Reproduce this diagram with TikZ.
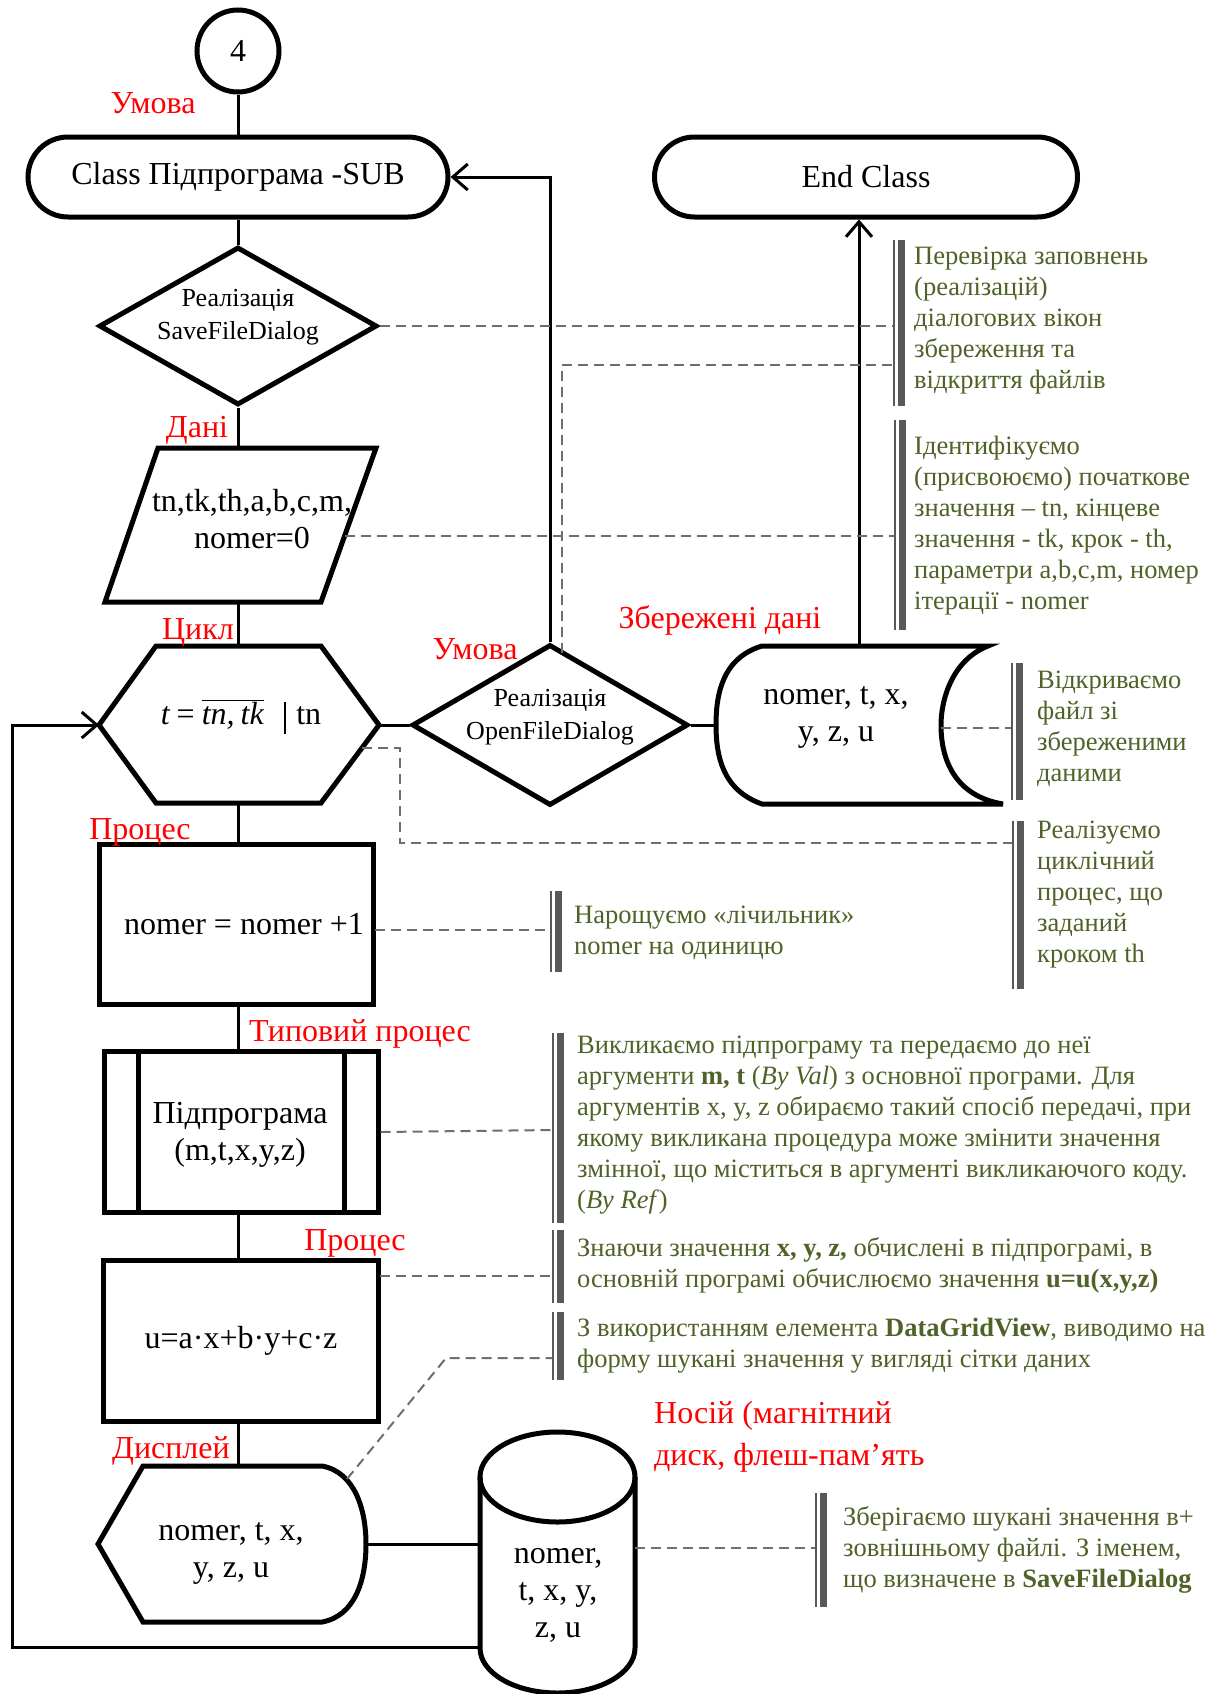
\documentclass[tikz,border=0pt]{standalone}
\usepackage{fontspec}
\setmainfont{Liberation Serif}
\usetikzlibrary{arrows.meta,shapes.geometric,shapes.misc}
\definecolor{annot}{RGB}{79,98,40}
\definecolor{bgray}{RGB}{89,89,89}
\definecolor{dgray}{RGB}{110,110,110}
\newcommand{\annbar}[3]{\draw[bthin] (#1,#2) -- (#1,#3); \draw[bthick] ({#1+7},#2) -- ({#1+7},#3);}
\begin{document}
\begin{tikzpicture}[x=1pt,y=-1pt,
  blk/.style={draw,line width=5pt},
  conn/.style={line width=3pt},
  arr/.style={line width=3pt,-{Straight Barb[length=15pt,width=26pt]}},
  dsh/.style={draw=dgray,line width=2pt,dash pattern=on 10pt off 6pt},
  ntxt/.style={font=\fontsize{32}{37}\selectfont,align=center,inner sep=0pt},
  dtxt/.style={font=\fontsize{26}{33}\selectfont,align=center,inner sep=0pt},
  lbl/.style={text=red,font=\fontsize{32}{38}\selectfont,inner sep=0pt},
  ann/.style={text=annot,font=\fontsize{26.5}{31}\selectfont,align=left,anchor=north west,inner sep=0pt},
  bthin/.style={draw=bgray,line width=2pt},
  bthick/.style={draw=bgray,line width=7pt}]
\fill[white] (0,0) rectangle (1219,1694);
\useasboundingbox (0,0) rectangle (1219,1694);

% ---------- coordinates of custom shapes ----------
\coordinate (data-n) at (238,448);
\coordinate (data-s) at (238,602);
\coordinate (data-e) at (345,536);
\coordinate (hex-n) at (238,646);
\coordinate (hex-s) at (238,803);
\coordinate (hex-e) at (379,725);
\coordinate (hex-w) at (99,725);
\coordinate (hex-se) at (362,748);
\coordinate (hex-bend) at (400,748);
\coordinate (open-d) at (562,653);
\coordinate (st-w) at (716,725);
\coordinate (st-n) at (859,646);
\coordinate (st-e) at (941,728);
\coordinate (p1-e) at (375,930);
\coordinate (p2-e) at (380,1276);
\coordinate (disp-n) at (238,1466);
\coordinate (disp-e) at (366,1544);
\coordinate (disp-ne) at (347,1479);
\coordinate (disp-bend) at (446,1358);
\coordinate (cyl-w) at (480,1544);
\coordinate (cyl-e) at (635,1548);
\coordinate (cyl-loop) at (480,1647);
\coordinate (loopx) at (12.6,1647);
% bar anchor coordinates
\coordinate (b1a) at (894,326);
\coordinate (b1b) at (894,365);
\coordinate (b2) at (895,536);
\coordinate (b3) at (1012,728);
\coordinate (b4) at (1013,843);
\coordinate (b5) at (551,930);
\coordinate (b6) at (553,1130);
\coordinate (b7) at (553,1276);
\coordinate (b8) at (553,1358);
\coordinate (b9) at (816,1548);

% ---------- nodes ----------
\node[blk,circle,minimum size=82pt,ntxt] (c4) at (238,51) {4};
\node[blk,rounded rectangle,minimum width=420pt,minimum height=80pt,ntxt] (sub) at (238,177) {Class Підпрограма -SUB};
\node[blk,rounded rectangle,minimum width=423pt,minimum height=80pt,ntxt] (endc) at (866,177) {End Class};
\node[blk,diamond,minimum width=278pt,minimum height=158pt,inner sep=0pt] (save) at (238,326) {};
\node[dtxt] (savet) at (238,317) {Реалізація\\SaveFileDialog};

\draw[blk] (158,448) -- (376,448) -- (321,602) -- (105,602) -- cycle;
\node[ntxt] (datat) at (252,519) {tn,tk,th,a,b,c,m,\\nomer=0};

\draw[blk] (156,646) -- (321,646) -- (379,725) -- (321,803) -- (156,803) -- (99,725) -- cycle;
\node[ntxt,anchor=base] (hext) at (241,724) {{\itshape t}\hspace{7pt}=\hspace{7pt}$\overline{\hbox{\itshape tn,\hspace{6pt}tk}}$\hspace{20pt}\rule[-10pt]{2.5pt}{32pt}\hspace{10pt}tn};

\node[blk,diamond,minimum width=276pt,minimum height=161pt,inner sep=0pt] (open) at (550,725) {};
\node[dtxt] (opent) at (550,717) {Реалізація\\OpenFileDialog};

\draw[blk] (762,646) -- (988,646) .. controls (952,660) and (941,700) .. (941,725)
  .. controls (941,760) and (955,796) .. (1003,804) -- (762,804)
  .. controls (722,790) and (716,755) .. (716,725) .. controls (716,695) and (722,658) .. (762,646) -- cycle;
\node[ntxt] (st) at (836,717) {nomer, t, x,\\y, z, u};

\node[blk,rectangle,minimum width=274pt,minimum height=160pt,ntxt] (p1) at (236,924) {\hspace*{16pt}nomer = nomer +1};

\node[blk,rectangle,minimum width=274pt,minimum height=161pt] (pred) at (241,1132) {};
\draw[blk] (138,1052) -- (138,1213);
\draw[blk] (344,1052) -- (344,1213);
\node[ntxt] (predt) at (240,1135) {Підпрограма\\(m,t,x,y,z)};

\node[blk,rectangle,minimum width=275pt,minimum height=161pt,ntxt] (p2) at (241,1341) {u=a·x+b·y+c·z};

\draw[blk] (143,1466) -- (322,1466) .. controls (355,1472) and (366,1510) .. (366,1544)
  .. controls (366,1580) and (355,1616) .. (322,1622) -- (143,1622) -- (98,1544) -- cycle;
\node[ntxt] (disp) at (231,1553) {nomer, t, x,\\y, z, u};

\draw[blk] (480,1477) -- (480,1648) arc[start angle=180,end angle=0,x radius=77.5,y radius=45] -- (635,1477);
\draw[blk] (557.5,1477) ellipse[x radius=77.5,y radius=45];
\node[ntxt] (cylt) at (558,1595) {nomer,\\t, x, y,\\z, u};

% ---------- connectors ----------
\draw[conn] (c4.south) -- (sub.north);
\draw[conn] (sub.south) -- (save.north);
\draw[conn] (save.south) -- (data-n);
\draw[conn] (data-s) -- (hex-n);
\draw[conn] (hex-e) -- (open.west);
\draw[conn] (open.east) -- (st-w);
\draw[arr] (st-n) -- (st-n |- endc.south);
\draw[arr] (open.north) |- (sub.east);
\draw[conn] (hex-s) -- (hex-s |- p1.north);
\draw[conn] (p1.south -| hex-s) -- (pred.north -| hex-s);
\draw[conn] (pred.south -| hex-s) -- (p2.north -| hex-s);
\draw[conn] (p2.south -| hex-s) -- (disp-n);
\draw[conn] (disp-e) -- (cyl-w);
\draw[arr] (cyl-loop) -- (loopx) |- (hex-w);

% ---------- dashed annotation links ----------
\draw[dsh] (save.east) -- (b1a);
\draw[dsh] (open-d) |- (b1b);
\draw[dsh] (data-e) -- (b2);
\draw[dsh] (hex-se) -- (hex-bend) |- (b4);
\draw[dsh] (st-e) -- (b3);
\draw[dsh] (p1-e) -- (b5);
\draw[dsh] (pred.east) -- (b6);
\draw[dsh] (p2-e) -- (b7);
\draw[dsh] (disp-ne) -- (disp-bend) -- (b8);
\draw[dsh] (cyl-e) -- (b9);

% ---------- annotation bars ----------
\annbar{894}{240}{406}
\annbar{895}{420}{630}
\annbar{1012}{663}{800}
\annbar{1013}{821}{989}
\annbar{551}{891}{972}
\annbar{553}{1033}{1223}
\annbar{553}{1230}{1303}
\annbar{553}{1312}{1380}
\annbar{816}{1493}{1607}

% ---------- annotation texts ----------
\node[ann] (a1) at (914,243) {\strut Перевірка заповнень\\(реалізацій)\\діалогових вікон\\збереження та\\відкриття файлів};
\node[ann] (a2) at (914,433) {\strut Ідентифікуємо\\(присвоюємо) початкове\\значення – tn, кінцеве\\значення - tk, крок - th,\\параметри a,b,c,m, номер\\ітерації - nomer};
\node[ann] (a3) at (1037,667) {\strut Відкриваємо\\файл зі\\збереженими\\даними};
\node[ann] (a4) at (1037,817) {\strut Реалізуємо\\циклічний\\процес, що\\заданий\\кроком th};
\node[ann] (a5) at (574,902) {\strut Нарощуємо «лічильник»\\nomer на одиницю};
\node[ann] (a6) at (577,1032) {\strut Викликаємо підпрограму та передаємо до неї\\аргументи \textbf{m, t} (\textit{By Val}) з основної програми. Для\\аргументів x, y, z обираємо такий спосіб передачі, при\\якому викликана процедура може змінити значення\\змінної, що міститься в аргументі викликаючого коду.\\(\textit{By Ref})};
\node[ann] (a7) at (577,1235) {\strut Знаючи значення \textbf{x, y, z,} обчислені в підпрограмі, в\\основній програмі обчислюємо значення \textbf{u=u(x,y,z)}};
\node[ann] (a8) at (577,1315) {\strut З використанням елемента \textbf{DataGridView}, виводимо на\\форму шукані значення у вигляді сітки даних};
\node[ann] (a9) at (843,1504) {\strut Зберігаємо шукані значення в+\\зовнішньому файлі. З іменем,\\що визначене в \textbf{SaveFileDialog}};

% ---------- red labels ----------
\node[lbl] (l1) at (153,103) {Умова};
\node[lbl] (l2) at (197,430) {Дані};
\node[lbl] (l3) at (198,632) {Цикл};
\node[lbl] (l4) at (475,649) {Умова};
\node[lbl] (l5) at (720,620) {Збережені дані};
\node[lbl] (l6) at (140,832) {Процес};
\node[lbl] (l7) at (360,1034) {Типовий процес};
\node[lbl] (l8) at (355,1243) {Процес};
\node[lbl] (l9) at (171,1451) {Дисплей};
\node[lbl,font=\fontsize{32}{42}\selectfont,align=left,anchor=north west] (l10) at (654,1394) {\strut Носій (магнітний\\диск, флеш-пам’ять};
\end{tikzpicture}
\end{document}
